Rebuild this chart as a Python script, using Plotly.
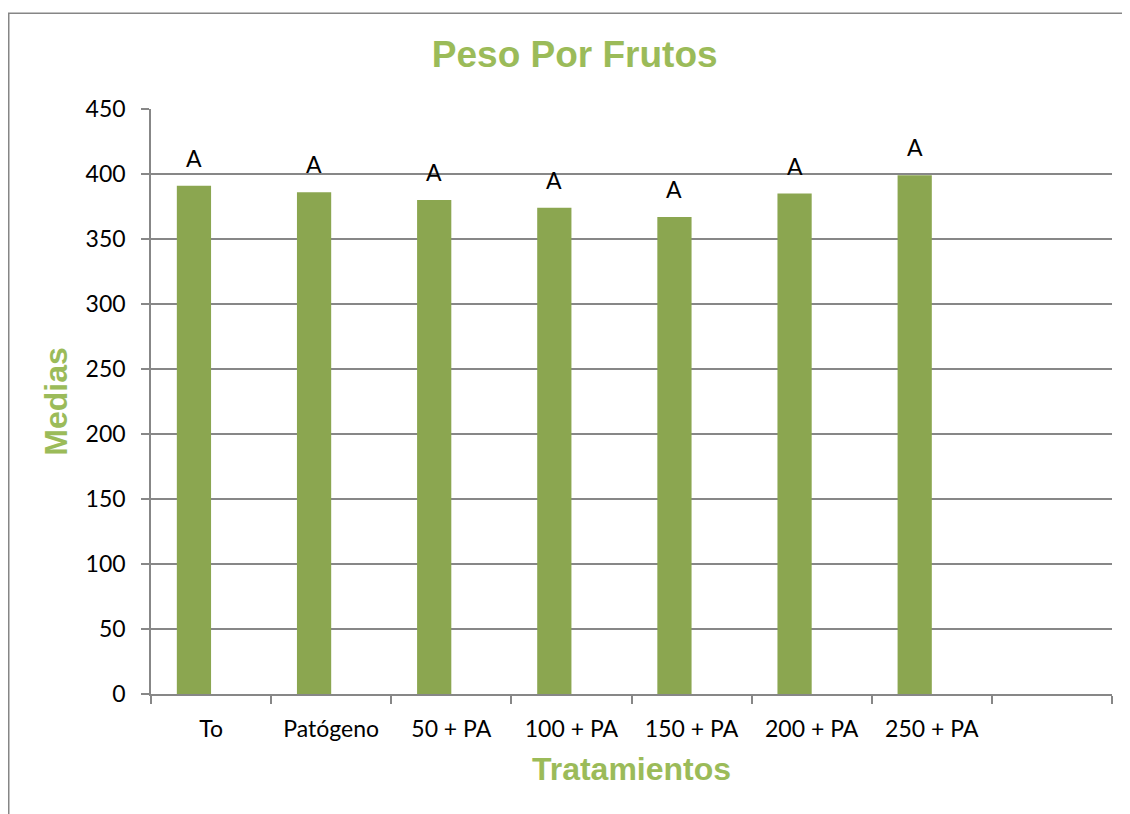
import plotly.graph_objects as go

categories = ["To", "Patógeno", "50 + PA", "100 + PA", "150 + PA", "200 + PA", "250 + PA", " "]
medias = [391, 386, 380, 374, 367, 385, 399, None]
letters = ["A", "A", "A", "A", "A", "A", "A", ""]
y_ticks = [0, 50, 100, 150, 200, 250, 300, 350, 400, 450]

bar_color = "#8BA650"
title_color = "#9BBB59"
grid_color = "#878787"
tick_font = dict(family="Lato, Open Sans, sans-serif", size=23, color="#000000")
head_font = "Liberation Sans, Arial, sans-serif"

BAR_W = 0.285

fig = go.Figure()
fig.add_trace(go.Bar(
    x=categories, y=medias, width=BAR_W, offset=-BAR_W,
    marker=dict(color=bar_color, line=dict(width=0)),
    hoverinfo="x+y",
))

for i, (v, t) in enumerate(zip(medias, letters)):
    if v is None or not t:
        continue
    fig.add_annotation(x=i - BAR_W / 2, y=v, text=t, showarrow=False, yanchor="bottom",
                       yshift=12, font=tick_font)

W, H = 1122, 806
fig.update_layout(
    width=W, height=H,
    paper_bgcolor="white", plot_bgcolor="white",
    margin=dict(l=143, r=18, t=101, b=120, autoexpand=False),
    showlegend=False,
    title=dict(text="<b>Peso Por Frutos</b>", x=566.7 / W, xanchor="center",
               y=1 - 46 / H, yanchor="middle",
               font=dict(family=head_font, size=37, color=title_color)),
    xaxis=dict(
        type="category", categoryorder="array", categoryarray=categories,
        range=[-0.5, 7.5],
        showline=True, linecolor=grid_color, linewidth=1.5,
        ticks="outside", tickson="boundaries", ticklen=8, tickcolor=grid_color, tickwidth=1.5,
        ticklabelstandoff=14,
        showgrid=False, tickfont=tick_font,
        title=dict(text="<b>Tratamientos</b>", standoff=16,
                   font=dict(family=head_font, size=32, color=title_color)),
    ),
    yaxis=dict(
        range=[0, 450], tickvals=y_ticks,
        showline=True, linecolor=grid_color, linewidth=1.5,
        ticks="outside", ticklen=8, tickcolor=grid_color, tickwidth=1.5,
        ticklabelstandoff=11,
        showgrid=True, gridcolor=grid_color, gridwidth=1.5,
        zeroline=False, tickfont=tick_font,
        title=dict(text="<b>Medias</b>", standoff=8,
                   font=dict(family=head_font, size=32, color=title_color)),
    ),
)

# outer chart-area border (left and top edges visible in the reference)
x_left = (0.75 - 143) / 961
y_top = 1 + (101 - 5.3) / 585
fig.add_shape(type="path", xref="paper", yref="paper",
              path=f"M {x_left},-0.4 L {x_left},{y_top} L 1.2,{y_top}",
              line=dict(color="#868686", width=1.5), layer="above")

fig.write_html("out.html")
